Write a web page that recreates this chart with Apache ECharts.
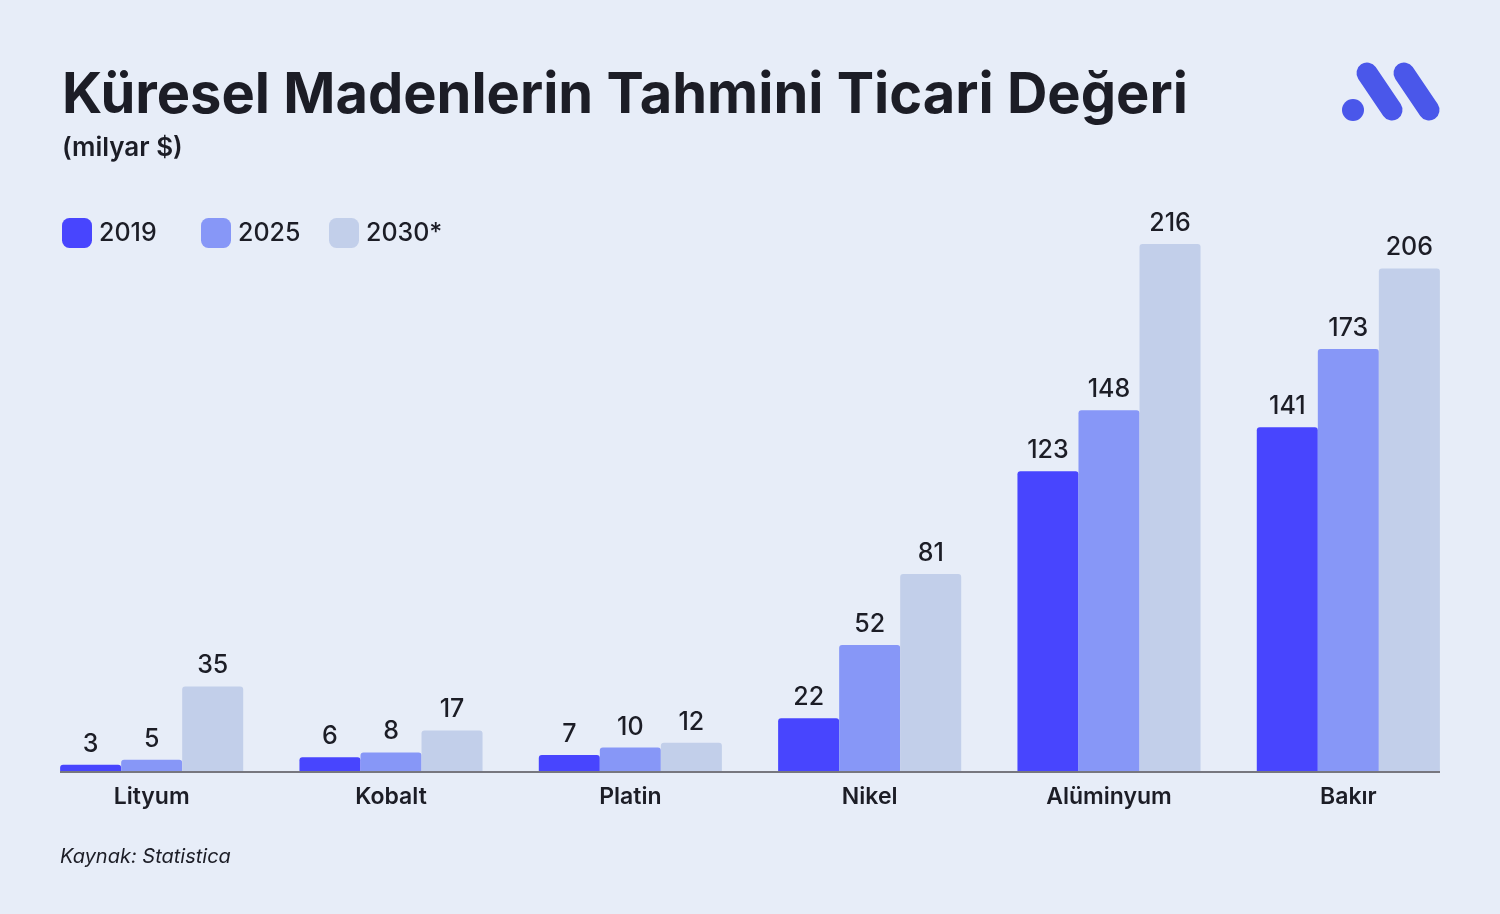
<!DOCTYPE html>
<html>
<head>
<meta charset="utf-8">
<script src="https://cdn.jsdelivr.net/npm/echarts@6/dist/echarts.min.js"></script>
<style>
  html, body { margin: 0; padding: 0; background: #e7edf8; }
  #chart { width: 1500px; height: 914px; }
</style>
</head>
<body>
<div id="chart"></div>
<script>
// data
var categories = ['Lityum', 'Kobalt', 'Platin', 'Nikel', 'Alüminyum', 'Bakır'];
var seriesNames = ['2019', '2025', '2030*'];
var v2019 = [3, 6, 7, 22, 123, 141];
var v2025 = [5, 8, 10, 52, 148, 173];
var v2030 = [35, 17, 12, 81, 216, 206];

var colors = ['#4845fe', '#8797f7', '#c2cfea'];
var textColor = '#1c1d26';
var font = 'Inter';

function barSeries(name, data, color) {
    return {
        name: name,
        type: 'bar',
        data: data,
        barGap: 0,
        barCategoryGap: '23.5%',
        itemStyle: { color: color, borderRadius: [3, 3, 0, 0] },
        label: {
            show: true,
            position: 'top',
            distance: 8,
            color: textColor,
            fontFamily: font,
            fontSize: 25,
            fontWeight: 500
        }
    };
}

// one legend per item so each swatch sits where it does in the picture
var legendLeft = [62, 201, 329];
function legendItem(name, left) {
    return {
        left: left,
        top: 218,
        padding: 0,
        itemWidth: 30,
        itemHeight: 30,
        icon: 'roundRect',
        data: [name],
        textStyle: { color: textColor, fontFamily: font, fontSize: 25, fontWeight: 500, padding: [3, 0, 0, 2] }
    };
}

var chart = echarts.init(document.getElementById('chart'));
var option = {
    backgroundColor: '#e7edf8',
    animation: false,
    title: [{
        text: 'Küresel Madenlerin Tahmini Ticari Değeri',
        left: 62,
        top: 68,
        padding: 0,
        textStyle: { color: textColor, fontFamily: font, fontSize: 56, fontWeight: 700 }
    }, {
        text: '(milyar $)',
        left: 62,
        top: 135,
        padding: 0,
        textStyle: { color: textColor, fontFamily: font, fontSize: 26, fontWeight: 600 }
    }, {
        text: 'Kaynak: Statistica',
        left: 60,
        top: 847,
        padding: 0,
        textStyle: { color: textColor, fontFamily: font, fontSize: 20, fontWeight: 400, fontStyle: 'italic' }
    }],
    legend: seriesNames.map(function (n, i) { return legendItem(n, legendLeft[i]); }),
    grid: { left: 32, right: 32, top: 244, bottom: 142 },
    xAxis: {
        type: 'category',
        data: categories,
        axisLine: { show: false },
        axisTick: { show: false },
        axisLabel: {
            margin: 14,
            color: textColor,
            fontFamily: font,
            fontSize: 23,
            fontWeight: 600
        }
    },
    yAxis: {
        type: 'value',
        min: 0,
        max: 216,
        show: false,
        splitLine: { show: false }
    },
    series: [
        barSeries(seriesNames[0], v2019, colors[0]),
        barSeries(seriesNames[1], v2025, colors[1]),
        barSeries(seriesNames[2], v2030, colors[2])
    ],
    graphic: [
        // baseline
        { type: 'line', shape: { x1: 60, y1: 772, x2: 1440, y2: 772 }, style: { stroke: '#77777f', lineWidth: 2 }, z: 10 },
        // logo
        { type: 'circle', shape: { cx: 1353, cy: 110, r: 11 }, style: { fill: '#4a57ea' } },
        { type: 'line', shape: { x1: 1367, y1: 73, x2: 1392, y2: 110 }, style: { stroke: '#4a57ea', lineWidth: 21, lineCap: 'round' } },
        { type: 'line', shape: { x1: 1404, y1: 73, x2: 1429, y2: 110 }, style: { stroke: '#4a57ea', lineWidth: 21, lineCap: 'round' } }
    ]
};
chart.setOption(option);
</script>
</body>
</html>
